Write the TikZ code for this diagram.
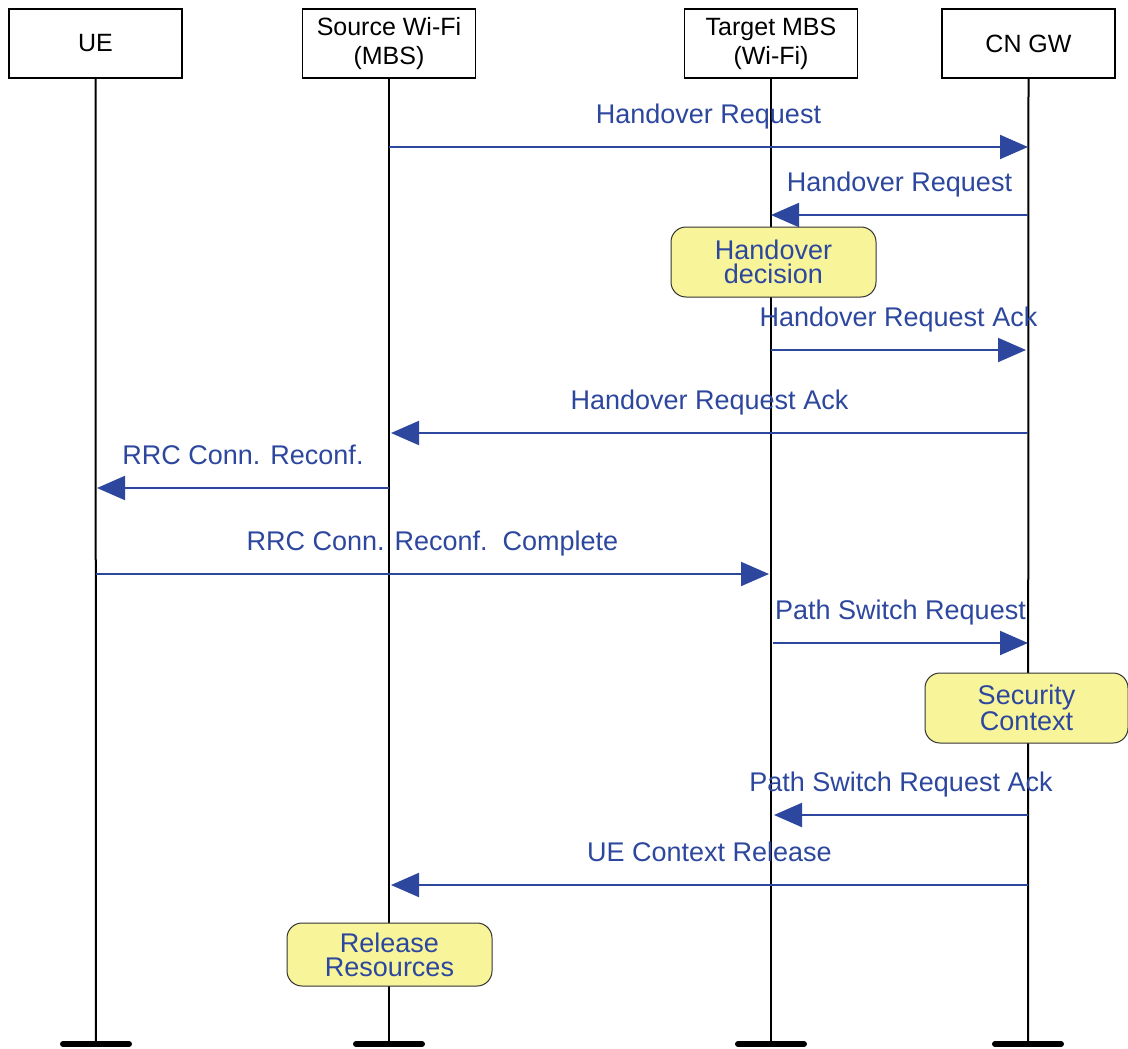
\documentclass[tikz,border=0pt]{standalone}
\usepackage{fontspec}
\setmainfont{Liberation Sans}
\usetikzlibrary{arrows.meta}
\definecolor{msg}{HTML}{2C479D}
\definecolor{note}{HTML}{F7F49A}
\begin{document}
\begin{tikzpicture}[x=1pt,y=-1pt,
 hdr/.style={draw, line width=1.5pt, minimum width=173pt, minimum height=69pt, inner sep=0pt, align=center, font=\fontsize{25}{29}\selectfont},
 life/.style={line width=2pt},
 bar/.style={line width=6pt, line cap=round},
 msgarrow/.style={draw=msg, line width=2pt, -{Triangle[length=28pt,width=24pt]}},
 lbl/.style={text=msg, font=\fontsize{27}{28}\selectfont, inner sep=0pt, anchor=base, yshift=24pt},
 notebox/.style={draw=black!80, fill=note, rounded corners=15pt, line width=1pt, align=center, text=msg, font=\fontsize{27}{24}\selectfont, inner sep=0pt, minimum width=205pt, minimum height=70pt}
]
\useasboundingbox (0,0) rectangle (1128,1049);

% headers
\node[hdr] (ue) at (95.5,43.5) {UE};
\node[hdr] (src) at (389,43.5) {Source Wi-Fi\\(MBS)};
\node[hdr] (tgt) at (771,43.5) {Target MBS\\(Wi-Fi)};
\node[hdr] (cn) at (1028.5,43.5) {CN GW};

% lifeline ends
\coordinate (ueE) at (96,1044);
\coordinate (srcE) at (389,1044);
\coordinate (tgtE) at (771,1044);
\coordinate (cnE) at (1028,1044);

\draw[life] (ue.south) -- (ueE);
\draw[life] (src.south) -- (srcE);
\draw[life] (tgt.south) -- (tgtE);
\draw[life] (cn.south) -- (cnE);

\draw[bar] ([xshift=-33pt]ueE) -- ([xshift=33pt]ueE);
\draw[bar] ([xshift=-33pt]srcE) -- ([xshift=33pt]srcE);
\draw[bar] ([xshift=-33pt]tgtE) -- ([xshift=33pt]tgtE);
\draw[bar] ([xshift=-33pt]cnE) -- ([xshift=33pt]cnE);

% notes
\node[notebox] (hd) at (773.5,262) {Handover\\decision};
\node[notebox, minimum width=203pt] (sc) at (1026.5,708) {Security\\Context};
\node[notebox, minimum height=63pt] (rr) at (389.5,954.5) {Release\\Resources};

% message coordinates
\coordinate (m1a) at (389,147);  \coordinate (m1b) at (1028,147);
\coordinate (m2a) at (1028,215); \coordinate (m2b) at (771,215);
\coordinate (m3a) at (771,350);  \coordinate (m3b) at (1026,350);
\coordinate (m4a) at (1028,433); \coordinate (m4b) at (391,433);
\coordinate (m5a) at (389,488);  \coordinate (m5b) at (97,488);
\coordinate (m6a) at (96,574);   \coordinate (m6b) at (769,574);
\coordinate (m7a) at (773,643);  \coordinate (m7b) at (1028,643);
\coordinate (m8a) at (1028,815); \coordinate (m8b) at (774,815);
\coordinate (m9a) at (1028,885); \coordinate (m9b) at (391,885);

\draw[msgarrow] (m1a) -- (m1b) node[lbl, midway] {Handover Request};
\draw[msgarrow] (m2a) -- (m2b) node[lbl, midway] {Handover Request};
\draw[msgarrow] (m3a) -- (m3b) node[lbl, midway] {Handover Request Ack};
\draw[msgarrow] (m4a) -- (m4b) node[lbl, midway] {Handover Request Ack};
\draw[msgarrow] (m5a) -- (m5b) node[lbl, midway] {RRC Conn. Reconf.};
\draw[msgarrow] (m6a) -- (m6b) node[lbl, midway] {RRC Conn. Reconf.\ \ Complete};
\draw[msgarrow] (m7a) -- (m7b) node[lbl, midway] {Path Switch Request};
\draw[msgarrow] (m8a) -- (m8b) node[lbl, midway] {Path Switch Request Ack};
\draw[msgarrow] (m9a) -- (m9b) node[lbl, midway] {UE Context Release};
\end{tikzpicture}
\end{document}
